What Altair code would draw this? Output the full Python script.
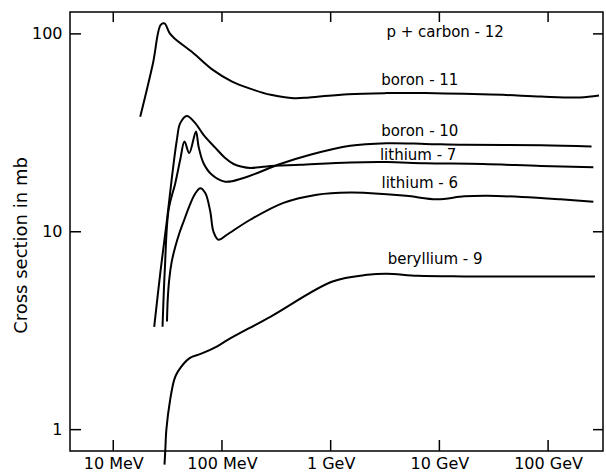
import altair as alt
import pandas as pd

# Cross sections for p + carbon-12 fragment production
# energy in MeV, cross section in mb

boron11_energy = [17.7, 23.2, 27.3, 29.6, 33.0, 36.4, 54.7, 82.4, 124, 187, 281,
                  460, 634, 1450, 3270, 7400, 16900, 38200, 86300, 197000, 294000]
boron11_sigma = [38.1, 71.1, 111, 113, 100.8, 95.1, 79.9, 65.8, 57.4, 52.6, 49.2,
                 47.3, 47.7, 49.6, 50.2, 50.2, 49.8, 49.2, 48.2, 47.7, 48.8]

boron10_energy = [28.4, 29.8, 32.3, 37.2, 41.3, 45.2, 50.0, 57.6, 60.9, 67.7, 80.8,
                  107, 158, 343, 648, 1510, 3270, 7400, 16900, 86300, 251000]
boron10_sigma = [3.31, 6.43, 12.9, 17.6, 23.1, 28.6, 25.0, 32.1, 27.0, 22.2, 19.4,
                 17.9, 18.7, 22.0, 24.5, 27.2, 28.0, 27.8, 27.5, 27.4, 27.0]

lithium7_energy = [23.8, 27.1, 31.2, 34.7, 38.5, 41.3, 47.6, 56.8, 67.7, 86.7, 107,
                   128, 153, 182, 259, 525, 1510, 3270, 7400, 25200, 86300, 261000]
lithium7_sigma = [3.31, 6.21, 11.5, 19.0, 29.2, 35.4, 38.5, 35.4, 30.9, 26.6, 23.6,
                  22.0, 21.3, 21.0, 21.4, 21.8, 22.4, 22.5, 22.2, 22.0, 21.5, 21.2]

lithium6_energy = [31.2, 31.7, 32.7, 34.5, 37.2, 40.4, 45.0, 51.0, 56.8, 63.1, 70.2,
                   78.0, 83.6, 92.9, 111, 182, 368, 747, 1510, 2170, 4940, 9490,
                   16900, 27500, 57400, 130000, 261000]
lithium6_sigma = [3.52, 4.54, 5.72, 7.06, 8.40, 9.77, 11.5, 13.8, 15.6, 16.6, 15.7,
                  12.7, 10.0, 9.11, 9.66, 11.5, 14.0, 15.4, 15.8, 15.7, 15.2, 14.6,
                  15.1, 15.2, 15.0, 14.6, 14.2]

beryllium9_energy = [29.6, 30.1, 30.8, 33.4, 36.4, 39.4, 50.4, 64.5, 89.5, 114, 281,
                     1040, 2170, 3270, 6310, 16900, 86300, 270000]
beryllium9_sigma = [0.666, 0.783, 1.0, 1.42, 1.79, 1.97, 2.30, 2.42, 2.63, 2.85, 3.73,
                    5.61, 6.06, 6.14, 5.99, 5.95, 5.95, 5.95]

# curve annotations
label_text = ["p + carbon - 12", "boron - 11", "boron - 10", "lithium - 7",
              "lithium - 6", "beryllium - 9"]
label_energy = [11300, 6600, 6600, 6380, 6600, 9140]
label_sigma = [102.8, 58.6, 32.4, 24.5, 17.6, 7.31]

# axis ticks
x_tick_values = [10, 100, 1000, 10000, 100000]
x_tick_labels = ["10 MeV", "100 MeV", "1 GeV", "10 GeV", "100 GeV"]
y_tick_values = [1, 10, 100]

curves = [
    ("boron - 11", boron11_energy, boron11_sigma),
    ("boron - 10", boron10_energy, boron10_sigma),
    ("lithium - 7", lithium7_energy, lithium7_sigma),
    ("lithium - 6", lithium6_energy, lithium6_sigma),
    ("beryllium - 9", beryllium9_energy, beryllium9_sigma),
]
rows = []
for name, energies, sigmas in curves:
    for i, (e, s) in enumerate(zip(energies, sigmas)):
        rows.append({"curve": name, "energy": e, "sigma": s, "order": i})
curve_df = pd.DataFrame(rows)

label_df = pd.DataFrame({"text": label_text, "energy": label_energy, "sigma": label_sigma})
xtick_df = pd.DataFrame({"energy": x_tick_values})
ytick_df = pd.DataFrame({"sigma": y_tick_values})

W, H = 533, 439
FONT = "DejaVu Sans"

x_scale = alt.Scale(type="log", domain=[4.0, 3.2e5])
y_scale = alt.Scale(type="log", domain=[0.78, 129])

label_expr = " : ".join(
    f"datum.value == {v} ? '{t}'" for v, t in zip(x_tick_values, x_tick_labels)
) + " : ''"

x_axis = alt.Axis(values=x_tick_values, labelExpr=label_expr, ticks=False, domain=False,
                  grid=False, labelFont=FONT, labelFontSize=16, labelColor="black",
                  labelPadding=4, labelFlush=False, title=None)
y_axis = alt.Axis(values=y_tick_values, labelExpr="format(datum.value, 'd')", ticks=False,
                  domain=False, grid=False, labelFont=FONT, labelFontSize=16,
                  labelColor="black", labelPadding=8, title="Cross section in mb",
                  titleFont=FONT, titleFontSize=18, titleFontWeight="normal",
                  titleColor="black", titleAngle=270, titleX=-49, titleY=233,
                  titleAlign="center", titleBaseline="middle")

X = alt.X("energy:Q", scale=x_scale, axis=x_axis)
Y = alt.Y("sigma:Q", scale=y_scale, axis=y_axis)

lines = alt.Chart(curve_df).mark_line(
    color="black", strokeWidth=2, interpolate="catmull-rom", clip=False
).encode(x=X, y=Y, detail="curve:N", order="order:Q")

labels = alt.Chart(label_df).mark_text(
    font=FONT, fontSize=15, color="black", align="center", baseline="middle"
).encode(x=X, y=Y, text="text:N")

# inward ticks on all four sides
tick_style = dict(color="black", strokeWidth=1.5)
bottom_ticks = alt.Chart(xtick_df).mark_rule(**tick_style).encode(
    x=X, y=alt.value(H), y2=alt.value(H - 11),
)
top_ticks = alt.Chart(xtick_df).mark_rule(**tick_style).encode(
    x=X, y=alt.value(0), y2=alt.value(10),
)
left_ticks = alt.Chart(ytick_df).mark_rule(**tick_style).encode(
    y=Y, x=alt.value(0), x2=alt.value(11),
)
right_ticks = alt.Chart(ytick_df).mark_rule(**tick_style).encode(
    y=Y, x=alt.value(W), x2=alt.value(W - 10),
)

chart = alt.layer(
    lines, labels, bottom_ticks, top_ticks, left_ticks, right_ticks
).properties(
    width=W, height=H,
    autosize=alt.AutoSizeParams(type="none"),
    padding={"left": 70, "top": 12, "right": 3, "bottom": 21},
    background="white",
).configure_view(stroke="black", strokeWidth=1.5)

chart.save("out.html", embed_options={"renderer": "svg", "actions": False})
